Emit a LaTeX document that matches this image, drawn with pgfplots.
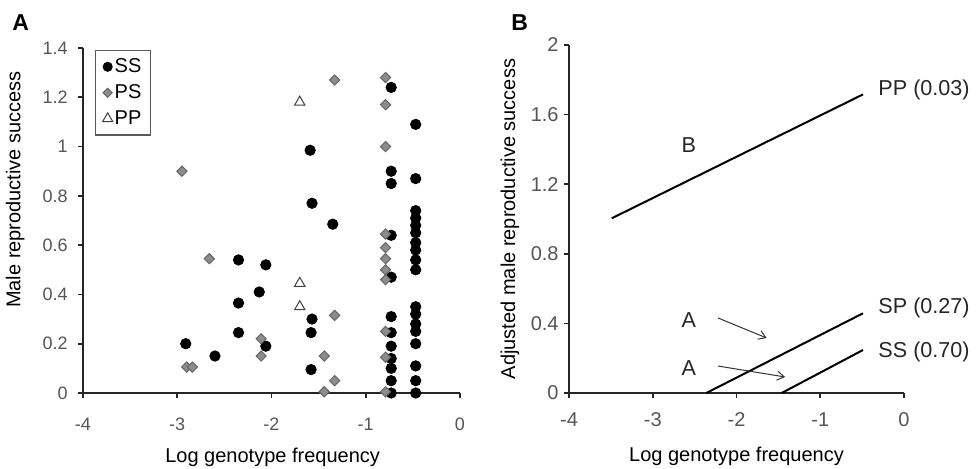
\documentclass[border=0pt]{standalone}
\usepackage{fontspec}
\setmainfont{Liberation Sans}
\usepackage{pgfplots}
\pgfplotsset{compat=1.18}
\usetikzlibrary{arrows.meta}

\definecolor{tickgray}{HTML}{555555}
\definecolor{psfill}{HTML}{8C8C8C}
\definecolor{psdraw}{HTML}{666666}

\pgfplotsset{panel/.style={
  scale only axis,
  axis lines*=left,
  axis line style={-, line width=1pt, black!85},
  tick align=outside,
  major tick length=2.5pt,
  tick style={line width=0.8pt, black!85},
  xmin=-4, xmax=0,
  xtick={-4,-3,-2,-1,0},
  xticklabels={-4,-3,-2,-1,0},
  tick label style={font=\fontsize{9}{10}\selectfont, text=tickgray, inner sep=0pt},
  label style={font=\fontsize{9.6}{11}\selectfont, text=black!75},
  xlabel={Log genotype frequency},
  clip=false,
}}

\begin{document}
\begin{tikzpicture}
\useasboundingbox (0,0) rectangle (488.5pt,234.5pt);
\node[font=\bfseries\fontsize{11.5}{13}\selectfont, anchor=north west, inner sep=0pt] at (6pt,227.5pt) {A};
\node[font=\bfseries\fontsize{11.5}{13}\selectfont, anchor=north west, inner sep=0pt] at (255.5pt,227.5pt) {B};

% panel A: raw scores
\begin{axis}[panel,
  at={(41.5pt,38pt)}, anchor=south west,
  width=188.5pt, height=172.5pt,
  ymin=0, ymax=1.4,
  ytick={0,0.2,0.4,0.6,0.8,1,1.2,1.4},
  yticklabels={0,0.2,0.4,0.6,0.8,1,1.2,1.4},
  xticklabel style={anchor=north, yshift=-10pt},
  yticklabel style={anchor=east, xshift=-5pt},
  ylabel={Male reproductive success},
  every axis y label/.style={at={(axis description cs:-0.18,0.59)}, rotate=90, anchor=center},
  every axis x label/.style={at={(axis description cs:0.503,-0.186)}, anchor=center},
  legend style={at={(axis description cs:0.032,0.995)}, anchor=north west,
    draw=black!65, line width=0.6pt, fill=white,
    font=\fontsize{10}{11}\selectfont, inner xsep=3.5pt, inner ysep=3.5pt,
    row sep=3.5pt, nodes={inner ysep=0.5pt, inner xsep=1pt},
    /tikz/every even column/.append style={column sep=4pt}},
  legend cell align=left,
  legend image code/.code={\draw[#1] plot coordinates {(0.17cm,0cm)};},
]
\addplot[only marks, mark=*, mark size=2.6pt, black, legend image post style={mark size=2.2pt}] coordinates {
  (-2.91,0.20) (-2.60,0.15) (-2.35,0.54) (-2.35,0.365) (-2.35,0.245)
  (-2.13,0.41) (-2.06,0.52) (-2.06,0.19)
  (-1.59,0.985) (-1.57,0.77) (-1.35,0.685) (-1.57,0.30) (-1.58,0.245) (-1.58,0.095)
  (-0.73,1.24) (-0.73,0.90) (-0.73,0.85) (-0.73,0.64) (-0.73,0.47) (-0.73,0.31)
  (-0.73,0.245) (-0.73,0.19) (-0.73,0.14) (-0.73,0.10) (-0.73,0.05) (-0.73,0.0)
  (-0.47,1.09) (-0.47,0.87) (-0.47,0.74) (-0.47,0.71) (-0.47,0.68) (-0.47,0.65)
  (-0.47,0.61) (-0.47,0.58) (-0.47,0.54) (-0.47,0.50) (-0.47,0.35) (-0.47,0.32)
  (-0.47,0.28) (-0.47,0.25) (-0.47,0.20) (-0.47,0.11) (-0.47,0.05) (-0.47,0.0)
};
\addplot[only marks, mark=square*, mark size=1.8pt, mark options={rotate=45, fill=psfill, draw=psdraw, line width=0.5pt},
  legend image post style={mark size=1.6pt}] coordinates {
  (-2.95,0.90) (-2.90,0.105) (-2.84,0.105) (-2.66,0.545) (-2.11,0.22) (-2.11,0.15)
  (-1.33,1.27) (-1.33,0.315) (-1.44,0.15) (-1.33,0.05) (-1.44,0.005)
  (-0.79,1.28) (-0.79,1.17) (-0.79,1.00) (-0.79,0.645) (-0.79,0.59) (-0.79,0.545)
  (-0.79,0.50) (-0.79,0.46) (-0.79,0.25) (-0.79,0.145) (-0.79,0.005)
};
\addplot[only marks, mark=triangle, mark size=3pt, mark options={draw=black!75, fill=white, line width=0.5pt},
  legend image post style={mark size=2.9pt}] coordinates {
  (-1.70,1.18) (-1.70,0.445) (-1.70,0.35)
};
\legend{SS,PS,PP}
\end{axis}

% panel B: adjusted fits
\begin{axis}[panel,
  at={(284.5pt,38pt)}, anchor=south west,
  width=167.5pt, height=174pt,
  ymin=0, ymax=2,
  ytick={0,0.4,0.8,1.2,1.6,2},
  yticklabels={0,0.4,0.8,1.2,1.6,2},
  tick label style={font=\fontsize{10}{11}\selectfont},
  xticklabel style={anchor=north, yshift=-7pt},
  yticklabel style={anchor=east, xshift=-2.5pt},
  ylabel={Adjusted male reproductive success},
  every axis y label/.style={at={(axis description cs:-0.176,0.5)}, rotate=90, anchor=center},
  every axis x label/.style={at={(axis description cs:0.50,-0.181)}, anchor=center},
]
\addplot[black, line width=1pt] coordinates {(-3.49,1.004) (-0.49,1.716)};
\addplot[black, line width=1pt] coordinates {(-2.36,0) (-0.49,0.458)};
\addplot[black, line width=1pt] coordinates {(-1.46,0) (-0.49,0.247)};
\begin{scope}[every node/.style={font=\fontsize{10.8}{12}\selectfont, text=black!85}]
\node[anchor=west, inner sep=0pt] at (axis cs:-0.31,1.741) {PP (0.03)};
\node[anchor=west, inner sep=0pt] at (axis cs:-0.31,0.489) {SP (0.27)};
\node[anchor=west, inner sep=0pt] at (axis cs:-0.31,0.236) {SS (0.70)};
\node at (axis cs:-2.57,1.425) {B};
\node at (axis cs:-2.57,0.42) {A};
\node at (axis cs:-2.57,0.144) {A};
\end{scope}
\draw[black!80, line width=0.5pt, -{Straight Barb[length=3.5pt,width=4.5pt]}] (axis cs:-2.22,0.431) -- (axis cs:-1.64,0.316);
\draw[black!80, line width=0.5pt, -{Straight Barb[length=3.5pt,width=4.5pt]}] (axis cs:-2.22,0.155) -- (axis cs:-1.42,0.092);
\end{axis}
\end{tikzpicture}
\end{document}
